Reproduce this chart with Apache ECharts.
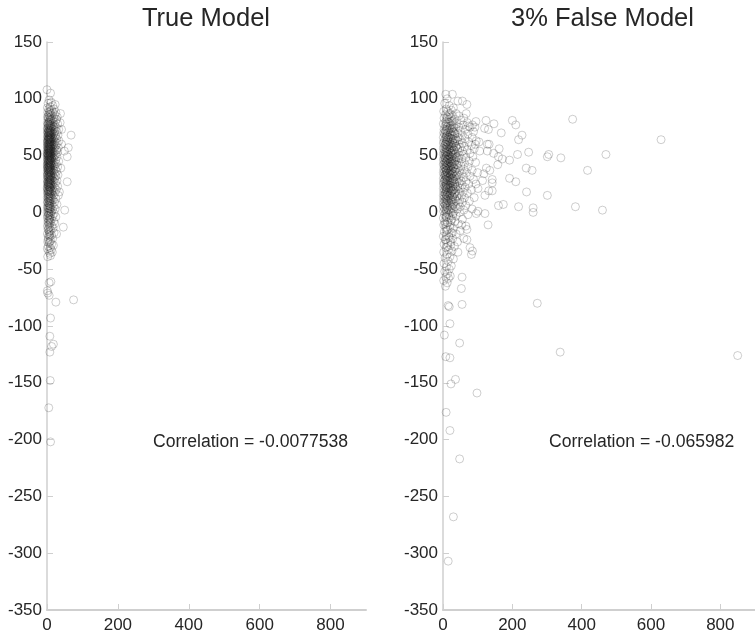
<!DOCTYPE html>
<html>
<head>
<meta charset="utf-8">
<style>html,body{margin:0;padding:0;background:#fff;overflow:hidden}#c{width:755px;height:634px}</style>
<script src="https://cdn.jsdelivr.net/npm/echarts@6/dist/echarts.min.js"></script>
</head>
<body>
<div id="c"></div>
<script>
const titles = ['True Model', '3% False Model'];
const correlations = ['Correlation = -0.0077538', 'Correlation = -0.065982'];
const xTicks = [0, 200, 400, 600, 800];

const trueOutliers = [[0,108],[10,105],[23,95],[38,87],[37,79],[41,73],[68,68],[60,57],[57,49],[49,54],[41,60],[39,39],[57,27],[35,18],[50,2],[46,-13],[27,-19],[10,-38],[2,-39],[8,-36],[11,-61],[6,-62],[1,-69],[2,-71],[6,-73],[25,-79],[75,-77],[10,-93],[8,-109],[18,-116],[13,-118],[8,-123],[9,-148],[5,-172],[10,-202]];

const trueTop = [[6,99],[12,97],[3,96],[16,94],[9,93],[1,92],[20,91],[5,91],[13,90],[8,89],[25,88],[2,88],[17,88],[11,87],[4,86],[22,86],[7,86],[14,85],[29,84],[1,84],[10,84],[19,83],[5,83],[15,82],[27,82],[3,82],[8,81],[12,81],[24,80],[6,80],[18,80],[1,79],[10,79],[30,78],[4,78],[14,78],[21,77],[8,77],[2,77],[16,76],[11,76],[26,75],[5,75],[19,75],[9,74],[1,74],[13,74],[33,73],[3,73],[17,73],[7,72],[23,72],[11,72],[2,71],[15,71],[28,71],[6,70],[20,70],[9,70],[1,70],[13,69],[4,69],[18,69],[31,68],[8,68],[11,68],[24,67],[2,67],[15,67],[6,66],[21,66],[10,66],[3,66],[17,65],[27,65],[7,65],[12,65],[1,64],[19,64],[5,64],[9,64],[34,63],[14,63],[3,63],[23,62],[8,62],[16,62],[11,62],[1,61],[29,61],[6,61],[20,60],[4,60],[13,60],[9,60],[17,59],[2,59],[25,59],[7,59],[11,58],[1,58],[15,58],[32,57],[5,57],[21,57],[9,57],[3,56],[13,56],[18,56],[7,56],[27,55],[1,55],[11,55],[5,55],[16,54],[23,54],[8,54],[3,54],[12,53],[30,53],[6,53],[19,53],[1,52],[10,52],[14,52],[4,52],[25,51],[8,51],[2,51],[17,51],[6,50],[12,50],[21,50],[1,50],[9,50]];

const trueMid = [[15,49],[3,49],[28,49],[7,48],[11,48],[19,48],[1,47],[5,47],[13,47],[24,46],[9,46],[3,46],[16,46],[7,45],[33,45],[1,45],[12,45],[20,44],[5,44],[10,44],[26,43],[2,43],[15,43],[8,43],[18,42],[4,42],[11,42],[1,41],[22,41],[6,41],[13,41],[30,40],[9,40],[3,40],[16,39],[7,39],[1,39],[24,38],[11,38],[5,38],[19,37],[14,37],[2,37],[8,37],[27,36],[10,36],[4,36],[17,35],[6,35],[1,35],[21,34],[12,34],[3,34],[9,33],[15,33],[31,33],[5,32],[25,32],[1,32],[11,32],[18,31],[7,31],[3,30],[14,30],[22,30],[9,29],[1,29],[12,29],[5,28],[28,28],[16,28],[2,27],[8,27],[19,27],[11,26],[4,26],[24,26],[14,25],[6,25],[1,25],[9,24],[17,24],[3,24],[30,23],[12,23],[5,23],[21,22],[8,22],[1,22],[15,21],[10,21],[3,20],[26,20],[6,20],[13,19],[18,19],[1,19],[8,18],[23,18],[4,18],[11,17],[2,16],[15,16],[7,16],[32,15],[19,15],[5,14],[10,14],[1,13],[14,13],[25,12],[3,12],[8,12],[17,11],[6,10],[12,10],[1,9],[21,9],[4,8],[9,8],[28,7],[14,7],[2,6],[7,6],[18,5],[11,5],[1,4],[5,4],[23,3],[9,3],[15,2],[3,2],[7,1],[12,0],[1,0],[20,-1],[5,-1],[10,-2],[16,-3],[3,-3],[25,-4],[8,-5],[1,-5],[13,-6],[6,-7],[19,-8],[3,-8],[10,-9],[22,-10],[5,-11],[14,-12],[1,-12],[8,-13],[17,-14],[3,-15],[11,-16],[6,-17],[20,-18],[1,-19],[13,-20],[8,-21],[4,-22],[16,-23],[10,-25],[2,-26],[6,-27],[13,-28],[18,-29],[3,-30],[9,-31],[1,-32],[12,-33],[5,-34],[15,-35]];

const trueCore = [[7,88],[4,84],[10,82],[6,79],[3,78],[9,77],[5,76],[12,75],[7,74],[2,74],[10,73],[4,72],[8,71],[6,71],[11,70],[3,70],[7,69],[5,68],[9,67],[2,67],[12,66],[6,66],[4,65],[8,65],[10,64],[3,64],[7,63],[5,62],[11,62],[1,62],[9,61],[6,60],[3,60],[8,59],[12,59],[4,58],[7,58],[10,57],[2,57],[5,56],[9,55],[6,55],[3,54],[11,54],[8,53],[4,52],[7,52],[1,52],[10,51],[5,50],[3,50],[9,49],[6,49],[12,48],[2,48],[8,47],[4,46],[7,46],[10,45],[5,44],[3,44],[9,43],[6,42],[1,42],[11,42],[8,41],[4,40],[7,40],[2,39],[10,39],[5,38],[9,37],[3,37],[6,36],[12,35],[8,35],[4,34],[7,33],[1,33],[10,32],[5,31],[3,31],[9,30],[6,29],[11,28],[8,28],[2,27],[4,26],[7,26],[10,25],[5,24],[3,23],[9,22],[6,22],[1,21],[8,20],[4,19],[11,19],[7,18],[2,17],[5,16],[9,15],[3,14],[6,13],[10,12],[4,11],[8,10],[2,9],[6,8],[5,6],[9,5],[3,4],[7,3],[11,1],[4,0],[6,-2],[2,-3],[8,-4],[5,-6],[9,-7],[3,-9],[7,-10],[4,-14],[6,-16],[8,-19],[5,-20],[3,-24],[7,-26]];

const falseOutliers = [[8,104],[27,104],[12,100],[43,98],[56,98],[69,95],[67,87],[95,80],[124,81],[147,78],[200,81],[210,77],[374,82],[85,77],[74,76],[92,75],[120,74],[131,73],[168,70],[228,68],[218,64],[104,62],[133,60],[128,60],[93,60],[106,54],[128,54],[162,56],[146,52],[160,49],[171,47],[192,46],[215,51],[247,53],[305,51],[301,49],[340,48],[158,42],[240,39],[257,37],[417,37],[125,39],[135,37],[118,34],[100,35],[192,30],[210,27],[142,29],[142,26],[114,28],[95,25],[101,21],[132,19],[142,19],[241,18],[301,15],[121,15],[174,7],[160,6],[218,5],[260,4],[260,0],[382,5],[460,2],[470,51],[629,64],[850,-126],[101,1],[96,-1],[121,-1],[130,-11],[69,-15],[54,-11],[69,-24],[78,-31],[85,-34],[82,-37],[43,-35],[55,-57],[53,-67],[55,-81],[272,-80],[15,-82],[18,-83],[20,-98],[4,-108],[48,-115],[338,-123],[8,-127],[20,-128],[36,-147],[23,-151],[98,-159],[9,-176],[20,-192],[48,-217],[30,-268],[15,-307]];

const falseTop = [[5,96],[18,94],[30,92],[9,91],[24,90],[14,89],[2,89],[38,87],[20,87],[7,86],[46,85],[28,85],[12,84],[60,83],[3,83],[34,82],[18,82],[52,81],[8,80],[25,80],[70,79],[14,79],[40,78],[1,78],[30,77],[58,77],[20,76],[6,76],[78,75],[46,75],[11,75],[36,74],[26,74],[3,73],[64,73],[17,73],[50,72],[8,72],[88,71],[30,71],[22,71],[42,70],[13,70],[2,70],[72,69],[34,69],[5,69],[56,68],[19,68],[26,68],[10,67],[84,66],[44,66],[1,66],[15,66],[36,65],[64,65],[7,65],[23,65],[30,64],[50,64],[12,64],[3,63],[96,63],[40,63],[18,63],[74,62],[27,62],[9,62],[56,61],[34,61],[1,61],[14,61],[46,60],[22,60],[6,60],[82,59],[30,59],[11,59],[62,58],[38,58],[3,58],[18,58],[50,57],[25,57],[8,57],[90,56],[42,56],[14,56],[1,56],[70,55],[32,55],[20,55],[5,55],[56,54],[11,54],[27,54],[44,53],[3,53],[16,53],[78,52],[36,52],[8,52],[23,52],[60,51],[13,51],[1,51],[30,51],[48,50],[18,50],[5,50],[86,49],[38,49],[10,49],[25,49],[66,48],[3,48],[15,48],[44,48],[32,47],[7,47],[54,47],[20,47],[1,46],[12,46],[36,46],[76,45],[27,45],[5,45],[17,45],[94,44],[46,44],[9,44],[22,44],[3,43],[62,43],[33,43],[14,43],[40,42],[7,42],[26,42],[1,42],[52,41],[18,41],[11,41],[72,40],[30,40],[4,40],[21,40],[44,39],[14,39],[8,39],[60,38],[36,38],[2,38],[25,38],[84,37],[17,37],[10,37],[48,36],[30,36],[5,36],[20,36],[68,35],[13,35],[38,35],[1,35],[26,34],[8,34],[54,34],[16,34],[42,33],[3,33],[22,33],[78,32],[32,32],[11,32],[6,32],[60,31],[18,31],[46,31],[1,30],[27,30],[14,30],[36,29],[8,29],[88,29],[21,29],[4,28],[52,28],[30,28],[12,28],[66,27],[40,27],[17,27],[2,27],[25,26],[7,26],[48,26],[34,25],[14,25],[74,25],[1,25],[20,24],[56,24],[10,24],[29,23],[42,23],[4,23],[16,22],[64,22],[36,22],[8,22],[22,21],[50,21],[1,21],[12,21],[82,20],[30,20],[5,20],[44,19],[18,19],[26,19],[9,18],[58,18],[36,18],[2,18],[70,17],[14,17],[22,17],[46,16],[6,16],[32,16],[11,15],[54,15],[19,15],[1,15],[40,14],[27,14],[4,14],[90,13],[15,13],[62,13],[8,13],[34,12],[22,12],[2,12],[48,11],[12,11],[28,11]];

const falseLow = [[6,10],[76,10],[38,10],[17,10],[1,9],[56,9],[24,9],[10,8],[44,8],[3,8],[30,7],[14,7],[66,6],[20,6],[7,6],[36,5],[50,5],[1,5],[12,4],[26,4],[84,3],[5,3],[42,3],[17,2],[60,2],[9,2],[32,1],[2,1],[22,0],[48,0],[13,-1],[5,-2],[72,-2],[28,-3],[38,-3],[9,-4],[1,-5],[18,-5],[56,-6],[24,-7],[5,-8],[34,-8],[12,-9],[44,-10],[2,-11],[20,-11],[66,-12],[8,-13],[30,-14],[14,-15],[50,-16],[4,-17],[24,-18],[38,-19],[10,-20],[1,-21],[18,-22],[60,-23],[28,-23],[6,-24],[42,-26],[14,-27],[3,-28],[22,-29],[33,-30],[9,-31],[16,-33],[26,-34],[2,-35],[12,-37],[20,-39],[6,-40],[30,-41],[15,-43],[3,-45],[24,-47],[10,-48],[18,-50],[5,-52],[13,-54],[21,-56],[8,-57],[16,-58],[2,-60],[12,-62],[7,-65]];

const falseCore = [[16,86],[22,84],[12,82],[27,80],[18,79],[9,78],[24,77],[14,76],[31,75],[20,74],[11,73],[26,72],[16,71],[7,71],[33,70],[21,69],[12,68],[28,67],[18,66],[9,66],[24,65],[14,64],[35,63],[20,62],[11,62],[29,61],[16,60],[7,60],[25,59],[13,58],[37,58],[21,57],[10,56],[31,55],[17,55],[26,54],[12,53],[7,53],[22,52],[34,51],[15,51],[28,50],[10,50],[20,49],[6,48],[38,48],[16,47],[25,47],[12,46],[31,45],[21,44],[8,44],[27,43],[15,43],[36,42],[11,41],[23,41],[18,40],[6,39],[30,39],[14,38],[24,37],[9,37],[34,36],[19,35],[12,35],[27,34],[7,33],[22,33],[38,32],[15,32],[10,31],[29,30],[19,30],[6,29],[25,28],[13,28],[33,27],[21,26],[9,25],[28,25],[16,24],[7,23],[36,23],[23,22],[12,22],[18,21],[30,20],[9,20],[25,19],[14,18],[6,17],[33,17],[20,16],[11,15],[28,14],[16,14],[8,12],[24,11],[13,10],[31,9],[19,8],[6,7],[27,6],[11,5],[22,3],[15,2],[8,0],[29,-1],[17,-2],[10,-4],[24,-6],[14,-9],[6,-10],[20,-13],[11,-16],[27,-18],[16,-21],[8,-24],[22,-26],[13,-30]];

const chart = echarts.init(document.getElementById('c'), null, {renderer: 'canvas'});
const FONT = '"Liberation Sans", Arial, sans-serif';
const INK = '#262626';
const AXIS = '#cfcfcf';
const grids = [
  {left: 47, top: 42, width: 319, height: 569.5},
  {left: 443, top: 42, width: 319, height: 569.5}
];
function xAxis(i) {
  return {
    gridIndex: i, type: 'value', min: 0, max: 900, interval: 200,
    splitLine: {show: false},
    axisLine: {show: true, onZero: false, lineStyle: {color: AXIS, width: 2}},
    axisTick: {show: true, inside: true, length: 6, customValues: xTicks, lineStyle: {color: AXIS, width: 1}},
    axisLabel: {show: true, customValues: xTicks, color: INK, fontSize: 17, fontFamily: FONT, margin: 7, formatter: v => String(v)}
  };
}
function yAxis(i) {
  return {
    gridIndex: i, type: 'value', min: -350, max: 150, interval: 50,
    splitLine: {show: false},
    axisLine: {show: true, onZero: false, lineStyle: {color: AXIS, width: 1.5}},
    axisTick: {show: true, inside: true, length: 6, lineStyle: {color: AXIS, width: 1}},
    axisLabel: {show: true, color: INK, fontSize: 17, fontFamily: FONT, margin: 5, formatter: v => String(v)}
  };
}
function ring(i, data) {
  return {
    type: 'scatter', xAxisIndex: i, yAxisIndex: i, data: data, symbol: 'circle', symbolSize: 8,
    large: false, clip: false, silent: true, animation: false,
    itemStyle: {color: 'rgba(0,0,0,0)', borderColor: 'rgba(30,30,30,0.27)', borderWidth: 1}
  };
}
function txt(t, left, top, size, align) {
  return {text: t, left: left, top: top, textAlign: align, textStyle: {fontFamily: FONT, fontSize: size, fontWeight: 'normal', color: INK}};
}
chart.setOption({
  animation: false,
  backgroundColor: '#ffffff',
  title: [
    txt(titles[0], 201, 1, 25.5, 'center'),
    txt(titles[1], 597.5, 1, 25.5, 'center'),
    txt(correlations[0], 148, 428, 17.6, 'left'),
    txt(correlations[1], 544, 428, 17.6, 'left')
  ],
  grid: grids,
  xAxis: [xAxis(0), xAxis(1)],
  yAxis: [yAxis(0), yAxis(1)],
  series: [
    ring(0, trueTop), ring(0, trueMid), ring(0, trueCore), ring(0, trueOutliers),
    ring(1, falseTop), ring(1, falseLow), ring(1, falseCore), ring(1, falseOutliers)
  ]
});
</script>
</body>
</html>
